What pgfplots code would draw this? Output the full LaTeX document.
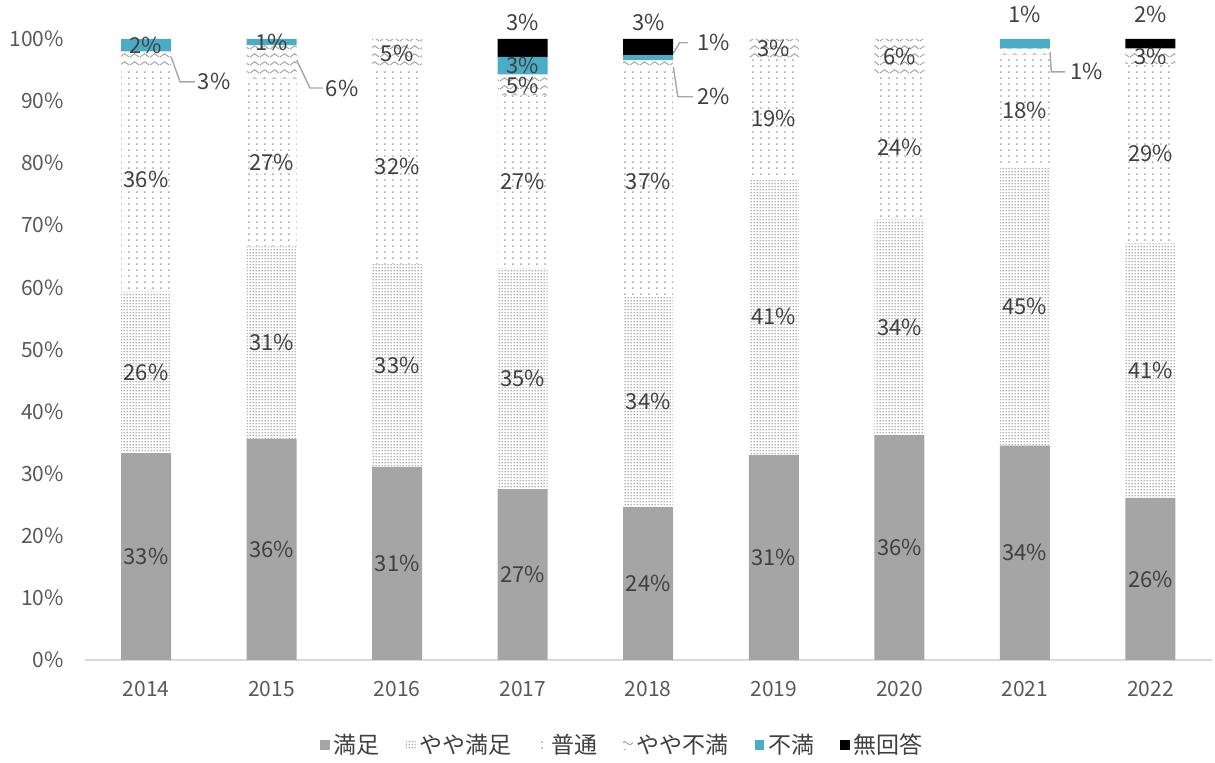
\documentclass[border=0pt]{standalone}
\usepackage{fontspec}
\setmainfont{Noto Sans CJK JP}
\usepackage{pgfplots}
\usepackage{pgfplotstable}
\pgfplotsset{compat=1.18}
\usetikzlibrary{patterns}
\definecolor{satgray}{HTML}{A5A5A5}
\definecolor{fuman}{HTML}{4BACC6}
\definecolor{txt}{HTML}{595959}
\definecolor{lbl}{HTML}{404040}
\definecolor{leader}{HTML}{A6A6A6}

\pgfdeclarepatternformonly{densedots}{\pgfqpoint{0pt}{0pt}}{\pgfqpoint{1.5pt}{1.4pt}}{\pgfqpoint{1.5pt}{1.4pt}}{%
  \pgfpathcircle{\pgfqpoint{0.75pt}{0.7pt}}{0.45pt}\pgfusepath{fill}}
\pgfdeclarepatternformonly{sparsedots}{\pgfqpoint{0pt}{0pt}}{\pgfqpoint{4.2pt}{3.2pt}}{\pgfqpoint{4.2pt}{3.2pt}}{%
  \pgfpathcircle{\pgfqpoint{2.1pt}{1.6pt}}{0.5pt}\pgfusepath{fill}}
\pgfdeclarepatternformonly{waves}{\pgfqpoint{0pt}{0pt}}{\pgfqpoint{5pt}{4pt}}{\pgfqpoint{5pt}{4pt}}{%
  \pgfsetlinewidth{0.55pt}%
  \pgfpathmoveto{\pgfqpoint{0pt}{1.1pt}}%
  \pgfpathcurveto{\pgfqpoint{0.8pt}{1.1pt}}{\pgfqpoint{1.7pt}{2.9pt}}{\pgfqpoint{2.5pt}{2.9pt}}%
  \pgfpathcurveto{\pgfqpoint{3.3pt}{2.9pt}}{\pgfqpoint{4.2pt}{1.1pt}}{\pgfqpoint{5pt}{1.1pt}}%
  \pgfusepath{stroke}}

% bar heights (share of the 100% bar) and their printed labels
\pgfplotstableread{
x y lab
0 33.3 33\%
1 35.6 36\%
2 31.1 31\%
3 27.5 27\%
4 24.6 24\%
5 33.0 31\%
6 36.2 36\%
7 34.5 34\%
8 26.1 26\%
}\manzoku
\pgfplotstableread{
x y lab
0 26.0 26\%
1 31.0 31\%
2 32.7 33\%
3 35.6 35\%
4 34.0 34\%
5 44.5 41\%
6 34.7 34\%
7 44.9 45\%
8 41.0 41\%
}\yayamanzoku
\pgfplotstableread{
x y lab
0 36.2 36\%
1 27.0 27\%
2 31.5 32\%
3 27.8 27\%
4 36.8 37\%
5 19.3 19\%
6 23.4 24\%
7 18.1 18\%
8 28.9 29\%
}\futsuu
\pgfplotstableread{
x y lab
0 2.5 {}
1 5.4 {}
2 4.7 5\%
3 3.4 5\%
4 1.2 {}
5 3.2 3\%
6 5.7 6\%
7 1.0 {}
8 2.5 3\%
}\yayafuman
\pgfplotstableread{
x y lab
0 2.0 2\%
1 1.0 1\%
2 0.0 {}
3 2.8 3\%
4 0.8 {}
5 0.0 {}
6 0.0 {}
7 1.5 {}
8 0.0 0\%
}\fuman
\pgfplotstableread{
x y lab
0 0.0 {}
1 0.0 {}
2 0.0 {}
3 2.9 {}
4 2.6 {}
5 0.0 {}
6 0.0 {}
7 0.0 {}
8 1.5 {}
}\mukaitou

\begin{document}
\begin{tikzpicture}
\useasboundingbox (-42.5pt,-51.5pt) rectangle (565pt,330pt);
\begin{axis}[
  at={(0pt,0pt)}, anchor=south west,
  scale only axis, width=563.5pt, height=310.5pt,
  ybar stacked, bar width=25pt,
  xmin=-0.486, xmax=8.49, ymin=0, ymax=100,
  clip=false,
  axis lines*=left,
  x axis line style={color=black!15, line width=0.8pt},
  y axis line style={draw=none},
  major tick style={draw=none},
  xtick={0,...,8},
  xticklabels={2014,2015,2016,2017,2018,2019,2020,2021,2022},
  ytick={0,10,...,100},
  yticklabels={0\%,10\%,20\%,30\%,40\%,50\%,60\%,70\%,80\%,90\%,100\%},
  /pgf/number format/assume math mode=true,
  xticklabel style={font=\fontsize{10.5}{12}\selectfont, text=txt, yshift=-7pt},
  yticklabel style={font=\fontsize{10.5}{12}\selectfont, text=txt, xshift=-7pt},
  nodes near coords={\pgfplotspointmeta},
  point meta=explicit symbolic,
  nodes near coords align=center,
  every node near coord/.append style={anchor=center, font=\fontsize{11}{12}\selectfont, text=lbl, inner sep=0pt},
  legend style={at={(axis description cs:0.478,-0.137)}, anchor=center, draw=none, fill=none,
    font=\fontsize{11.5}{13}\selectfont, text=lbl,
    /tikz/every even column/.append style={column sep=11pt}},
  legend columns=-1,
  legend image code/.code={\draw[#1,draw=none] (0pt,-2.4pt) rectangle (4.8pt,2.4pt);},
]
\addplot[fill=satgray, draw=none] table[x=x,y=y,meta=lab] {\manzoku};
\addplot[pattern=densedots, pattern color=black!40, draw=none] table[x=x,y=y,meta=lab] {\yayamanzoku};
\addplot[pattern=sparsedots, pattern color=black!40, draw=none] table[x=x,y=y,meta=lab] {\futsuu};
\addplot[pattern=waves, pattern color=black!35, draw=none] table[x=x,y=y,meta=lab] {\yayafuman};
\addplot[fill=fuman, draw=none] table[x=x,y=y,meta=lab] {\fuman};
\addplot[fill=black, draw=none] table[x=x,y=y,meta=lab] {\mukaitou};
\legend{満足,やや満足,普通,やや不満,不満,無回答}

% outside labels with leader lines
\draw[leader, line width=0.7pt] (axis cs:0.2,97.1) -- (axis cs:0.271,93.1) -- (axis cs:0.39,93.1);
\node[anchor=west, inner sep=0pt, text=lbl, font=\fontsize{11}{12}\selectfont] at (axis cs:0.41,93.1) {3\%};
\draw[leader, line width=0.7pt] (axis cs:1.2,96.6) -- (axis cs:1.306,92.1) -- (axis cs:1.409,92.1);
\node[anchor=west, inner sep=0pt, text=lbl, font=\fontsize{11}{12}\selectfont] at (axis cs:1.43,92.1) {6\%};
\draw[leader, line width=0.7pt] (axis cs:4.2,97.7) -- (axis cs:4.25,99.4) -- (axis cs:4.315,99.4);
\node[anchor=west, inner sep=0pt, text=lbl, font=\fontsize{11}{12}\selectfont] at (axis cs:4.39,99.4) {1\%};
\draw[leader, line width=0.7pt] (axis cs:4.2,95.5) -- (axis cs:4.236,90.7) -- (axis cs:4.355,90.7);
\node[anchor=west, inner sep=0pt, text=lbl, font=\fontsize{11}{12}\selectfont] at (axis cs:4.39,90.7) {2\%};
\draw[leader, line width=0.7pt] (axis cs:7.2,97.9) -- (axis cs:7.21,94.7) -- (axis cs:7.32,94.7);
\node[anchor=west, inner sep=0pt, text=lbl, font=\fontsize{11}{12}\selectfont] at (axis cs:7.36,94.7) {1\%};
\node[inner sep=0pt, text=lbl, font=\fontsize{11}{12}\selectfont] at (axis cs:3,102.6) {3\%};
\node[inner sep=0pt, text=lbl, font=\fontsize{11}{12}\selectfont] at (axis cs:4,102.6) {3\%};
\node[inner sep=0pt, text=lbl, font=\fontsize{11}{12}\selectfont] at (axis cs:7,103.9) {1\%};
\node[inner sep=0pt, text=lbl, font=\fontsize{11}{12}\selectfont] at (axis cs:8,103.9) {2\%};
\end{axis}
\end{tikzpicture}
\end{document}
